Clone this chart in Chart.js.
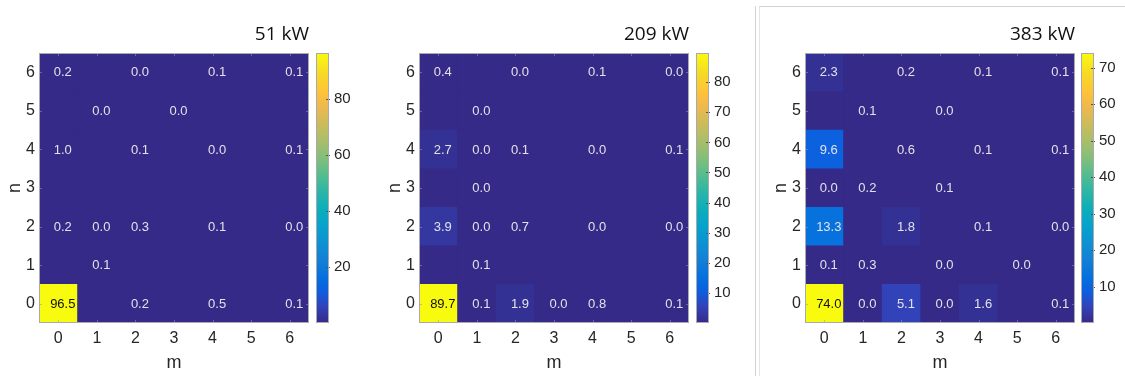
<!DOCTYPE html>
<html><head><meta charset="utf-8">
<script src="https://cdn.jsdelivr.net/npm/chart.js@4.4.1/dist/chart.umd.min.js"></script>
<style>
html,body{margin:0;padding:0;background:#fff;width:1125px;height:376px;overflow:hidden}
body{position:relative}
canvas{position:absolute;top:0}
.frame{position:absolute}
</style></head><body>
<div class="frame" style="left:755px;top:6px;width:0;height:372px;border-left:1px solid #d2d2d2"></div>
<div class="frame" style="left:759px;top:6px;width:380px;height:380px;border-left:1px solid #e4e4e4;border-top:1px solid #d2d2d2"></div>
<script>
// ---------- data ----------
const mLabels = ['0','1','2','3','4','5','6'];
const nTicks = [0,1,2,3,4,5,6];
const titles = ['51 kW','209 kW','383 kW'];
// rows: n = 0..6 ; columns: m = 0..6 ; null = empty (zero) cell
const map51 = [
  [96.5, null, 0.2, null, 0.5, null, 0.1],
  [null, 0.1, null, null, null, null, null],
  [0.2, 0.0, 0.3, null, 0.1, null, 0.0],
  [null, null, null, null, null, null, null],
  [1.0, null, 0.1, null, 0.0, null, 0.1],
  [null, 0.0, null, 0.0, null, null, null],
  [0.2, null, 0.0, null, 0.1, null, 0.1]
];
const map209 = [
  [89.7, 0.1, 1.9, 0.0, 0.8, null, 0.1],
  [null, 0.1, null, null, null, null, null],
  [3.9, 0.0, 0.7, null, 0.0, null, 0.0],
  [null, 0.0, null, null, null, null, null],
  [2.7, 0.0, 0.1, null, 0.0, null, 0.1],
  [null, 0.0, null, null, null, null, null],
  [0.4, null, 0.0, null, 0.1, null, 0.0]
];
const map383 = [
  [74.0, 0.0, 5.1, 0.0, 1.6, null, 0.1],
  [0.1, 0.3, null, 0.0, null, 0.0, null],
  [13.3, null, 1.8, null, 0.1, null, 0.0],
  [0.0, 0.2, null, 0.1, null, null, null],
  [9.6, null, 0.6, null, 0.1, null, 0.1],
  [null, 0.1, null, 0.0, null, null, null],
  [2.3, null, 0.2, null, 0.1, null, 0.1]
];
const colorbarSteps = [20, 10, 10];

// ---------- style / layout ----------
const FONT = '"Liberation Sans", Arial, sans-serif';
const AXIS = '#262626';
const heatLeft = [0, 380, 766];
const cbarLeft = [316, 696, 1081];
const PARULA = [
  [0/63,0.2081,0.1663,0.5292],[4/63,0.1959,0.2645,0.7279],[7/63,0.0591,0.3598,0.8683],
  [10/63,0.0165,0.4266,0.8786],[15/63,0.0779,0.5040,0.8384],[19/63,0.0488,0.5772,0.8228],
  [23/63,0.0231,0.6418,0.7913],[27/63,0.0590,0.6838,0.7254],[31/63,0.1801,0.7177,0.6424],
  [35/63,0.3482,0.7424,0.5473],[39/63,0.5300,0.7491,0.4661],[43/63,0.6834,0.7435,0.4044],
  [47/63,0.8185,0.7327,0.3498],[51/63,0.9450,0.7261,0.2886],[54/63,0.9990,0.7653,0.2164],
  [58/63,0.9697,0.8481,0.1475],[63/63,0.9763,0.9831,0.0538]
];
function parula(t){
  t = Math.max(0, Math.min(1, t));
  for (let i=1;i<PARULA.length;i++){
    const a=PARULA[i-1], b=PARULA[i];
    if (t<=b[0]){
      const f=(t-a[0])/(b[0]-a[0]);
      const c=[1,2,3].map(k=>Math.round(255*(a[k]+(b[k]-a[k])*f)));
      return `rgb(${c[0]},${c[1]},${c[2]})`;
    }
  }
  return 'rgb(249,251,14)';
}
function cellColor(v, vmax){
  const idx = Math.min(63, Math.floor((v||0)/vmax*64));
  return parula(idx/63);
}
function makeCanvas(left, width){
  const c=document.createElement('canvas');
  c.width=width; c.height=376;
  c.style.left=left+'px'; c.style.width=width+'px'; c.style.height='376px';
  document.body.appendChild(c);
  return c;
}

function heatPlugins(grid, vmax){
  return [{
    id:'heatBg',
    beforeDatasetsDraw(chart){
      const {ctx, chartArea:a} = chart;
      ctx.save(); ctx.fillStyle = parula(0);
      ctx.fillRect(a.left, a.top, a.right-a.left, a.bottom-a.top);
      ctx.restore();
    },
    afterDatasetsDraw(chart){
      const {ctx, chartArea:a, scales} = chart;
      ctx.save();
      // inner tick marks
      ctx.strokeStyle='rgba(150,150,170,0.55)'; ctx.lineWidth=1;
      ctx.beginPath();
      mLabels.forEach((m,i)=>{
        const x=Math.round(scales.x.getPixelForValue(i))+0.5;
        ctx.moveTo(x,a.bottom); ctx.lineTo(x,a.bottom-3);
        ctx.moveTo(x,a.top); ctx.lineTo(x,a.top+3);
      });
      nTicks.forEach(n=>{
        const y=Math.round(scales.y.getPixelForValue(n))+0.5;
        ctx.moveTo(a.left,y); ctx.lineTo(a.left+3,y);
        ctx.moveTo(a.right,y); ctx.lineTo(a.right-3,y);
      });
      ctx.stroke();
      // cell labels
      ctx.font = '13px ' + FONT; ctx.textAlign='center'; ctx.textBaseline='middle';
      chart.data.datasets.forEach((ds, n) => {
        const meta = chart.getDatasetMeta(n);
        grid[n].forEach((v, m) => {
          if (v === null) return;
          const el = meta.data[m];
          const cy = (el.y + el.base) / 2;
          ctx.fillStyle = v/vmax > 0.6 ? '#111111' : '#e2e2ea';
          ctx.fillText(v.toFixed(1), el.x + 4.5, cy + 0.5);
        });
      });
      // frame
      ctx.strokeStyle='#a9a9b0'; ctx.lineWidth=1;
      ctx.strokeRect(a.left+0.5, a.top+0.5, a.right-a.left-1, a.bottom-a.top-1);
      ctx.restore();
    }
  }];
}

function drawHeat(idx, grid){
  const vmax = Math.max(...grid.flat().filter(v=>v!==null));
  const cv = makeCanvas(heatLeft[idx], 39+270);
  new Chart(cv, {
    type:'bar',
    data:{
      labels: mLabels,
      datasets: nTicks.map(n => ({
        data: mLabels.map(() => [n-0.5, n+0.5]),
        backgroundColor: grid[n].map(v => cellColor(v, vmax)),
        borderWidth:0, grouped:false, barPercentage:1, categoryPercentage:1
      }))
    },
    options:{
      responsive:false, animation:false, events:[],
      layout:{padding:0},
      plugins:{
        legend:{display:false}, tooltip:{enabled:false},
        title:{display:true, text:titles[idx], align:'end', fullSize:false, color:'#111',
          font:{family:'"Open Sans", "Noto Sans", sans-serif', size:19, weight:'normal', lineHeight:1.2},
          padding:{top:23.6, bottom:6.6}}
      },
      scales:{
        x:{type:'category', grid:{display:false, drawTicks:false}, border:{display:false},
          ticks:{color:AXIS, font:{family:FONT, size:16}, padding:6, maxRotation:0},
          title:{display:true, text:'m', color:AXIS, font:{family:FONT, size:18}, padding:{top:0, bottom:2}},
          afterFit(s){ s.height = 53; }},
        y:{type:'linear', min:-0.5, max:6.5,
          afterBuildTicks(s){ s.ticks = nTicks.map(v => ({value:v})); },
          grid:{display:false, drawTicks:false}, border:{display:false},
          ticks:{color:AXIS, font:{family:FONT, size:16}, padding:4},
          title:{display:true, text:'n', color:AXIS, font:{family:FONT, size:18}, padding:{top:4, bottom:0}},
          afterFit(s){ s.width = 39; }}
      }
    },
    plugins: heatPlugins(grid, vmax)
  });
  return vmax;
}

function drawColorbar(idx, vmax){
  const step = colorbarSteps[idx];
  const cv = makeCanvas(cbarLeft[idx], 13+36);
  new Chart(cv, {
    type:'bar',
    data:{ labels:[''], datasets:[{
      data:[[0, vmax]],
      backgroundColor(ctx){
        const a = ctx.chart.chartArea;
        if (!a) return parula(0.5);
        const g = ctx.chart.ctx.createLinearGradient(0, a.bottom, 0, a.top);
        PARULA.forEach(p => g.addColorStop(p[0], parula(p[0])));
        return g;
      },
      borderWidth:0, barPercentage:1, categoryPercentage:1
    }]},
    options:{
      responsive:false, animation:false, events:[],
      layout:{padding:{top:53, bottom:53, left:0, right:0}},
      plugins:{legend:{display:false}, tooltip:{enabled:false}},
      scales:{
        x:{display:false},
        y:{position:'right', min:0, max:vmax,
          afterBuildTicks(s){
            const t = [];
            for (let v = step; v <= vmax; v += step) t.push({value:v});
            s.ticks = t;
          },
          ticks:{color:AXIS, font:{family:FONT, size:15}, padding:5},
          grid:{display:false, drawTicks:false}, border:{display:false},
          afterFit(s){ s.width = 36; }}
      }
    },
    plugins:[{
      id:'cbarFrame',
      afterDatasetsDraw(chart){
        const {ctx, chartArea:a, scales} = chart;
        ctx.save();
        ctx.strokeStyle='#555'; ctx.lineWidth=1; ctx.beginPath();
        scales.y.ticks.forEach(t => {
          const y = Math.round(scales.y.getPixelForValue(t.value))+0.5;
          ctx.moveTo(a.right-3, y); ctx.lineTo(a.right+1, y);
        });
        ctx.stroke();
        ctx.strokeStyle='#a9a9b0';
        ctx.strokeRect(a.left+0.5, a.top+0.5, a.right-a.left-1, a.bottom-a.top-1);
        ctx.restore();
      }
    }]
  });
}

[map51, map209, map383].forEach((grid, i) => {
  const vmax = drawHeat(i, grid);
  drawColorbar(i, vmax);
});
</script>
</body></html>
